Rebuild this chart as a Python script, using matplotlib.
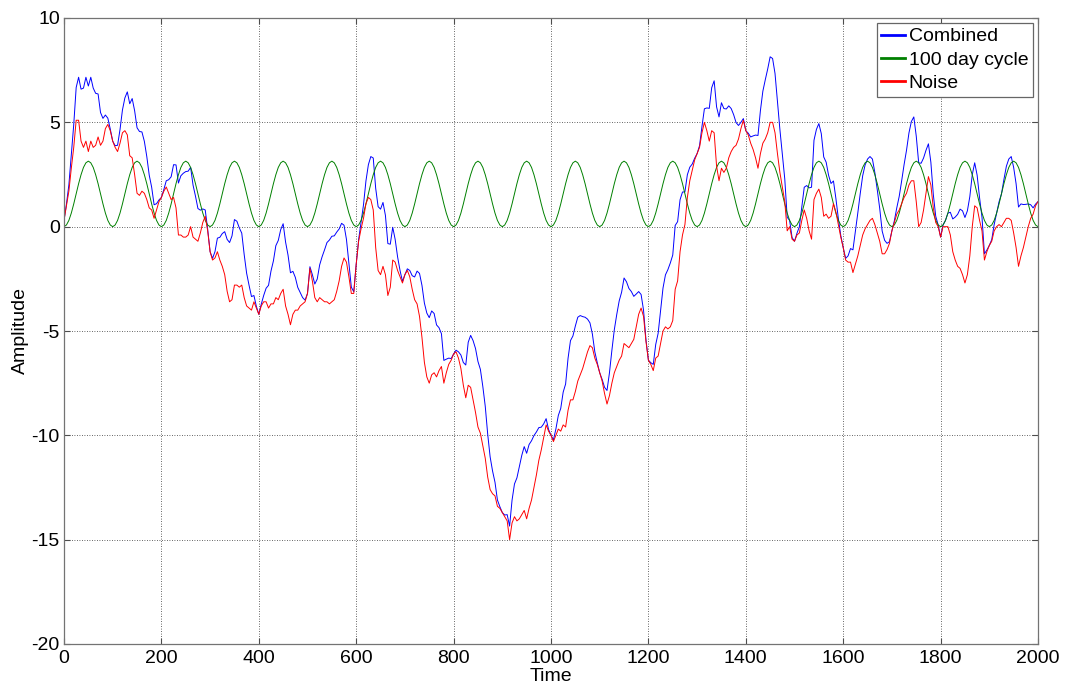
#!/usr/bin/env python3

import numpy as np
import matplotlib
matplotlib.use("Agg")
import matplotlib.pyplot as plt

step = 5
t_end = 2000

# one period of the 100 day cycle, read every 5 days
cycle_period = [0.00, 0.08, 0.30, 0.65, 1.09, 1.57, 2.06, 2.49, 2.84, 3.06,
                3.14, 3.06, 2.84, 2.49, 2.06, 1.57, 1.09, 0.65, 0.30, 0.08]

# noise (red), every 5 days, 0..2000
noise = [
    0.3, 1.0, 1.7, 2.8, 3.8, 5.1, 5.1, 4.1, 3.8, 4.1, 3.6, 4.1, 3.8, 3.9, 4.3, 3.9, 4.1, 4.7, 4.9, 4.6,
    4.1, 3.8, 3.6, 4.0, 4.5, 4.6, 4.4, 3.4, 3.3, 2.5, 1.6, 1.5, 1.7, 1.6, 1.3, 0.9, 0.8, 0.4, 0.8, 1.2,
    1.4, 1.7, 1.9, 1.6, 1.3, 1.4, 0.9, -0.4, -0.4, -0.5, -0.5, -0.4, 0.0, -0.5, -0.6, -0.7, -0.3, 0.2, 0.5, -0.2,
    -1.2, -1.6, -1.5, -1.2, -1.6, -1.9, -2.3, -3.1, -3.6, -3.5, -2.8, -2.8, -2.9, -2.8, -3.4, -3.8, -3.9, -4.0, -3.6, -3.9,
    -4.2, -3.8, -3.6, -3.6, -3.9, -3.7, -3.7, -3.4, -3.5, -3.2, -3.0, -3.8, -4.2, -4.7, -4.2, -4.0, -4.0, -3.8, -3.7, -3.6,
    -3.2, -2.0, -2.6, -3.4, -3.6, -3.4, -3.5, -3.6, -3.6, -3.7, -3.6, -3.5, -3.1, -2.6, -1.9, -1.5, -1.7, -2.4, -3.2, -3.2,
    -1.8, -0.7, -0.1, 0.4, 1.1, 1.4, 1.3, 0.8, -1.0, -2.1, -2.3, -1.9, -2.3, -3.3, -2.9, -1.6, -1.7, -2.1, -2.4, -2.7,
    -2.3, -2.1, -2.4, -3.0, -3.5, -3.7, -4.3, -5.3, -6.5, -7.2, -7.5, -7.1, -7.0, -7.2, -6.9, -6.7, -7.5, -7.0, -6.6, -6.4,
    -6.1, -6.0, -6.3, -6.8, -7.6, -8.2, -7.6, -7.7, -8.3, -8.9, -9.6, -9.9, -10.5, -11.1, -12.0, -12.6, -12.8, -12.9, -13.4, -13.5,
    -13.7, -13.9, -14.1, -15.0, -14.2, -13.9, -14.1, -14.0, -13.8, -13.6, -14.0, -13.5, -13.1, -12.5, -11.9, -11.2, -10.7, -10.1, -9.5, -9.8,
    -10.0, -10.3, -10.0, -9.7, -9.8, -9.5, -9.6, -8.8, -8.3, -8.3, -7.9, -7.4, -7.1, -6.8, -6.4, -6.0, -5.7, -5.8, -6.3, -6.6,
    -7.0, -7.4, -8.0, -8.5, -8.1, -7.5, -7.0, -6.7, -6.4, -6.2, -5.6, -5.7, -5.8, -5.6, -5.4, -4.8, -4.2, -3.9, -4.3, -5.5,
    -6.4, -6.6, -6.9, -6.3, -6.2, -5.6, -5.0, -4.8, -4.9, -4.8, -4.5, -3.0, -2.6, -1.2, -0.4, 0.1, 1.4, 2.2, 2.7, 3.2,
    3.5, 3.8, 4.5, 5.0, 4.6, 4.1, 4.6, 4.5, 2.9, 2.2, 2.8, 2.6, 2.8, 3.3, 3.6, 3.8, 3.9, 4.2, 4.7, 5.1,
    4.6, 4.4, 4.0, 3.7, 3.3, 2.8, 3.5, 4.0, 4.2, 4.5, 5.0, 5.0, 4.5, 3.5, 2.6, 1.9, 1.2, -0.2, 0.0, -0.6,
    -0.7, -0.4, -0.3, 0.3, 0.8, 0.4, -0.2, -0.6, 1.3, 1.6, 1.8, 1.4, 0.5, 0.6, 0.4, 0.5, 1.1, 0.7, 0.1, -0.5,
    -1.0, -1.6, -1.7, -1.7, -2.2, -1.8, -1.4, -0.9, -0.4, -0.1, 0.1, 0.3, 0.4, 0.1, -0.3, -0.7, -1.3, -1.3, -1.1, -0.8,
    -0.2, 0.2, 0.6, 0.8, 1.1, 1.4, 1.6, 2.0, 2.2, 2.2, 1.2, 0.0, 0.2, 0.8, 1.6, 2.4, 2.0, 0.9, 0.2, 0.0,
    -0.5, 0.0, 0.0, 0.0, -0.4, -1.2, -1.6, -1.9, -2.0, -2.3, -2.7, -2.3, -1.4, 0.0, 1.0, 0.9, 0.3, -0.2, -1.6, -1.2,
    -0.9, -0.7, -0.2, 0.0, 0.1, 0.0, 0.2, 0.4, 0.4, 0.3, -0.3, -1.0, -1.9, -1.4, -1.0, -0.5, 0.0, 0.4, 0.6, 1.0,
    1.2,
]

x_ticks = list(range(0, 2001, 200))
y_ticks = list(range(-20, 11, 5))
labels = ["Combined", "100 day cycle", "Noise"]

fs = 14


def main():
    plt.rcParams['font.family'] = ['Liberation Sans', 'DejaVu Sans']
    plt.rcParams['font.size'] = fs
    plt.rcParams['axes.unicode_minus'] = False

    days = np.arange(0, t_end + 1, step)
    noi = np.array(noise)
    cyc = np.tile(cycle_period, len(days) // len(cycle_period) + 1)[:len(days)]
    comb = noi + cyc

    fig = plt.figure(figsize=(10.70, 6.91), dpi=100)
    ax = fig.add_axes([64 / 1070, 47 / 691, 974 / 1070, 626 / 691])

    ax.plot(days, comb, color=(0, 0, 1), lw=0.7, label=labels[0])
    ax.plot(days, cyc, color=(0, 0.5, 0), lw=0.7, label=labels[1])
    ax.plot(days, noi, color=(1, 0, 0), lw=0.7, label=labels[2])

    ax.set_xlim(0, 2000)
    ax.set_ylim(-20, 10)
    ax.set_xticks(x_ticks)
    ax.set_yticks(y_ticks)
    ax.grid(True, linestyle=(0, (1, 2)), color='0.2', lw=0.6)
    ax.tick_params(direction='in', top=True, right=True, length=4,
                   color='0.3', labelsize=fs)
    ax.tick_params(axis='x', pad=4)
    ax.tick_params(axis='y', pad=3)
    for s in ax.spines.values():
        s.set_color('0.45')
        s.set_linewidth(0.9)

    ax.set_xlabel("Time", fontsize=fs, labelpad=1)
    ax.set_ylabel("Amplitude", fontsize=fs, labelpad=2)

    leg = ax.legend(loc='upper right', fancybox=False, framealpha=1,
                    edgecolor='0.4', borderaxespad=0.25, handlelength=1.2,
                    handletextpad=0.2, labelspacing=0.3, borderpad=0.25,
                    fontsize=fs)
    for h in leg.get_lines():
        h.set_linewidth(2)
    leg.get_frame().set_linewidth(0.9)

    fig.savefig("out.png", dpi=100)


if __name__ == "__main__":
    main()
